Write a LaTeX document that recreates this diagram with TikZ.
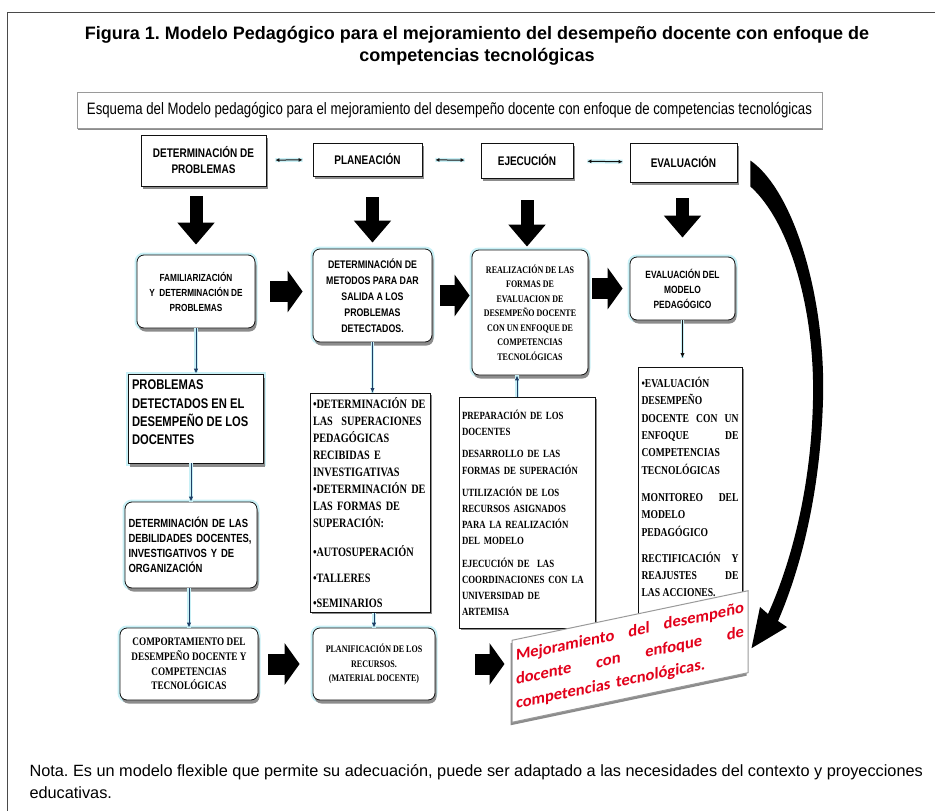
\documentclass[tikz,border=0pt]{standalone}
\usepackage{fontspec}
\setmainfont{Liberation Sans}
\newfontfamily\narrowsans[FakeStretch=0.80]{Liberation Sans}
\newfontfamily\narrowserif[FakeStretch=0.80]{Liberation Serif}
\newfontfamily\redsans{Carlito}
\usetikzlibrary{arrows.meta,positioning,calc,shadows}
\frenchspacing
\definecolor{mpInk}{HTML}{111111}
\definecolor{mpFrame}{HTML}{4A4A4A}
\definecolor{mpShade}{HTML}{8C8C8C}
\definecolor{mpGlow}{HTML}{C8F0F6}
\definecolor{mpNavy}{HTML}{1F3F66}
\definecolor{mpRed}{HTML}{E2001A}
\definecolor{mpEdge}{HTML}{9A9A9A}
\newcommand{\topfill}[4]{\parbox[c][#1][t]{#2}{\raggedright\vspace*{#3}#4}}
\tikzset{
  hdr/.style={draw=mpInk, fill=white, line width=0.8pt, drop shadow={shadow xshift=1.5pt, shadow yshift=-3pt, fill=mpShade, opacity=1}, inner sep=2pt, align=center, font=\narrowsans\bfseries\fontsize{12.5}{16}\selectfont},
  rbox/.style={draw=mpInk, fill=white, line width=0.8pt, rounded corners=7pt, preaction={draw=mpGlow, line width=5pt}, drop shadow={shadow xshift=1.5pt, shadow yshift=-3.5pt, fill=mpShade, opacity=1}, inner sep=3pt, align=center},
  lbox/.style={draw=mpInk, fill=white, line width=0.8pt, drop shadow={shadow xshift=2pt, shadow yshift=-2pt, fill=mpShade, opacity=1}, inner xsep=3pt, inner ysep=4pt, align=left, anchor=north},
  sansT/.style={font=\narrowsans\bfseries\fontsize{10.3}{15}\selectfont},
  serifT/.style={font=\narrowserif\bfseries\fontsize{10}{14.5}\selectfont},
  bigdown/.style={draw=black, line width=13pt, -{Triangle[length=22pt,width=36pt]}},
  bigright/.style={draw=black, line width=21pt, -{Triangle[length=15pt,width=41pt]}},
  thinarr/.style={draw=mpNavy, line width=1pt, -{Latex[length=5pt,width=4.5pt]}, preaction={draw=mpGlow, line width=3.5pt, -}},
  dblarr/.style={draw=mpInk, line width=1pt, {Latex[length=4pt,width=4pt]}-{Latex[length=4pt,width=4pt]}, preaction={draw=mpGlow, line width=4pt, -}},
}
\begin{document}
\begin{tikzpicture}[x=1pt, y=-1pt]
  \useasboundingbox (0,0) rectangle (935,811);
  \draw[mpFrame, line width=0.9pt] (7,811) -- (7,12) -- (935,12);
  % ---------- title ----------
  \node[font=\bfseries\fontsize{18}{22}\selectfont, align=center] (title) at (477,46)
    {Figura 1. Modelo Pedagógico para el mejoramiento del desempeño docente con enfoque de\\competencias tecnológicas};
  \node[draw=mpEdge, fill=white, minimum width=745pt, minimum height=36pt, drop shadow={shadow xshift=1pt, shadow yshift=-2pt, fill=mpShade, opacity=1}, font=\narrowsans\fontsize{16.5}{18}\selectfont] (esq) at (449.5,110)
    {Esquema del Modelo pedagógico para el mejoramiento del desempeño docente con enfoque de competencias tecnológicas};
  % ---------- stages ----------
  \node[hdr, minimum width=125pt, minimum height=51pt] (h1) at (203.5,160.5) {DETERMINACIÓN DE\\PROBLEMAS};
  \node[hdr, minimum width=109pt, minimum height=33pt] (h2) at (367.5,159.5) {PLANEACIÓN};
  \node[hdr, minimum width=92pt, minimum height=35pt] (h3) at (527,160.5) {EJECUCIÓN};
  \node[hdr, minimum width=107pt, minimum height=39pt] (h4) at (683.5,162.5) {EVALUACIÓN};
  \draw[dblarr, shorten <=9pt, shorten >=10pt] (h1) -- (h2);
  \draw[dblarr, shorten <=13pt, shorten >=16pt] (h2) -- (h3);
  \draw[dblarr, shorten <=14pt, shorten >=7pt] (h3) -- (h4);
  % ---------- second row ----------
  \node[rbox, sansT, minimum width=118pt, minimum height=73pt] (r1) at (196,291.5) {FAMILIARIZACIÓN\\Y\ \ DETERMINACIÓN DE\\PROBLEMAS};
  \node[rbox, font=\narrowsans\bfseries\fontsize{11}{16}\selectfont, minimum width=119pt, minimum height=93pt] (r2) at (372.5,295.5) {DETERMINACIÓN DE\\METODOS PARA DAR\\SALIDA A LOS\\PROBLEMAS\\DETECTADOS.};
  \node[rbox, serifT, minimum width=116pt, minimum height=125pt] (r3) at (530,312.5) {REALIZACIÓN DE LAS\\FORMAS DE\\EVALUACION DE\\DESEMPEÑO DOCENTE\\CON UN ENFOQUE DE\\COMPETENCIAS\\TECNOLÓGICAS};
  \node[rbox, font=\narrowsans\bfseries\fontsize{10.5}{15}\selectfont, minimum width=105pt, minimum height=63pt] (r4) at (682.5,288.5) {EVALUACIÓN DEL\\MODELO\\PEDAGÓGICO};
  \draw[bigdown, shorten <=10pt, shorten >=10pt] (r1.north |- h1.south) -- (r1.north);
  \draw[bigdown, shorten <=21pt, shorten >=6pt] (r2.north |- h2.south) -- (r2.north);
  \draw[bigdown, shorten <=22pt, shorten >=3pt] (h3.south) -- (h3.south |- r3.north);
  \draw[bigdown, shorten <=16pt, shorten >=19pt] (r4.north |- h4.south) -- (r4.north);
  \draw[bigright, shorten <=15pt, shorten >=10pt] (r1.east) -- (r1.east -| r2.west);
  \draw[bigright, shorten <=8pt, shorten >=2pt] (r2.east) -- (r2.east -| r3.west);
  \draw[bigright, shorten <=4pt, shorten >=7pt] (r3.east |- r4.west) -- (r4.west);
  % ---------- first column ----------
  \node[rbox, sharp corners, font=\narrowsans\bfseries\fontsize{14}{18.4}\selectfont, minimum width=135pt, minimum height=89pt] (p1) at (195.5,418.5)
    {\topfill{83pt}{127pt}{3pt}{PROBLEMAS\\DETECTADOS EN EL\\DESEMPEÑO DE LOS\\DOCENTES}};
  \node[rbox, align=left, font=\narrowsans\bfseries\fontsize{11.8}{15}\selectfont, minimum width=132pt, minimum height=86pt, text width=125pt] (d1) at (191,545) {DETERMINACIÓN DE LAS\\DEBILIDADES DOCENTES,\\INVESTIGATIVOS Y DE\\ORGANIZACIÓN};
  \node[rbox, serifT, font=\narrowserif\bfseries\fontsize{11.5}{14.8}\selectfont, minimum width=138pt, minimum height=72pt] (b1) at (189,664) {COMPORTAMIENTO DEL\\DESEMPEÑO DOCENTE Y\\COMPETENCIAS\\TECNOLÓGICAS};
  \draw[thinarr] (r1.south) -- (r1.south |- p1.north);
  \draw[thinarr] (d1.north |- p1.south) -- (d1.north);
  \draw[thinarr] (b1.north |- d1.south) -- (b1.north);
  % ---------- lists ----------
  \node[lbox, font=\narrowserif\bfseries\fontsize{12.8}{17}\selectfont, minimum width=120pt, minimum height=219pt, text width=114pt] (l2) at (370,393)
    {•DETERMINACIÓN DE\\LAS\ \ SUPERACIONES\\PEDAGÓGICAS\\RECIBIDAS E\\INVESTIGATIVAS\\•DETERMINACIÓN DE\\LAS FORMAS DE\\SUPERACIÓN:\\[12pt]•AUTOSUPERACIÓN\\[9pt]•TALLERES\\[8pt]•SEMINARIOS};
  \node[lbox, font=\narrowserif\bfseries\fontsize{11}{16.2}\selectfont, minimum width=136pt, minimum height=231pt, text width=130pt] (l3) at (527,397)
    {PREPARACIÓN DE LOS\\DOCENTES\\[6pt]DESARROLLO DE LAS\\FORMAS DE SUPERACIÓN\\[6pt]UTILIZACIÓN DE LOS\\RECURSOS ASIGNADOS\\PARA LA REALIZACIÓN\\DEL MODELO\\[6pt]EJECUCIÓN DE\ \ LAS\\COORDINACIONES CON LA\\UNIVERSIDAD DE\\ARTEMISA};
  \node[lbox, inner ysep=5pt, font=\narrowserif\bfseries\fontsize{12}{17.3}\selectfont, minimum width=104pt] (l4) at (690,367)
    {\topfill{243pt}{97pt}{5pt}{•EVALUACIÓN\\DESEMPEÑO\\DOCENTE\hfill CON\hfill UN\\ENFOQUE\hfill DE\\COMPETENCIAS\\TECNOLÓGICAS\\[10pt]MONITOREO\hfill DEL\\MODELO\\PEDAGÓGICO\\[9pt]RECTIFICACIÓN\hfill Y\\REAJUSTES\hfill DE\\LAS ACCIONES.}};
  \draw[thinarr] (r2.south) -- (r2.south |- l2.north);
  \draw[thinarr] ([xshift=-10pt]l3.north) -- ([xshift=-10pt]l3.north |- r3.south);
  \draw[thinarr, draw=mpInk, shorten >=9pt] (r4.south) -- (r4.south |- l4.north);
  % ---------- bottom row ----------
  \node[rbox, serifT, minimum width=122pt, minimum height=72pt] (b2) at (374,664) {PLANIFICACIÓN DE LOS\\RECURSOS.\\(MATERIAL DOCENTE)};
  \draw[thinarr] (b2.north |- l2.south) -- (b2.north);
  \begin{scope}[shift={(630,656.5)}, yslant=0.21]
    \node[transform shape, draw=mpEdge, fill=white, line width=1pt, drop shadow={shadow xshift=-1.5pt, shadow yshift=-3pt, fill=mpShade, opacity=1}, minimum width=236pt, minimum height=82pt, text width=228pt, inner xsep=4pt, align=left, text=mpRed, font=\redsans\bfseries\fontsize{16.5}{24}\selectfont] (res) at (0,0)
      {Mejoramiento\hfill del\hfill desempeño\\docente\hfill con\hfill enfoque\hfill de\\competencias tecnológicas.};
  \end{scope}
  \draw[bigright, shorten <=40pt, shorten >=7pt] (b2.east) -- (b2.east -| res.west);
  \draw[bigright, shorten <=10pt, shorten >=13pt] (b1.east) -- (b1.east -| b2.west);
  % ---------- return arrow ----------
  \coordinate (swS) at ($(h4.east)+(13,-2)$);
  \coordinate (swT) at ($(res.east)!0.4!(res.south east)+(3,0)$);
  \fill[black] (swS) .. controls (795,192) and (826,300) .. (823,400) .. controls (820,500) and (798,575) .. (778,621)
    -- (787,627) -- (swT) -- (760,607) -- (768,614) .. controls (788,570) and (811,495) .. (813,400)
    .. controls (815,310) and (790,222) .. ($(swS)+(0,26)$) -- cycle;
  % ---------- note ----------
  \node[anchor=west, align=left, font=\fontsize{16.3}{22}\selectfont] (nota) at (26,782)
    {Nota. Es un modelo flexible que permite su adecuación, puede ser adaptado a las necesidades del contexto y proyecciones\\educativas.};
\end{tikzpicture}
\end{document}
